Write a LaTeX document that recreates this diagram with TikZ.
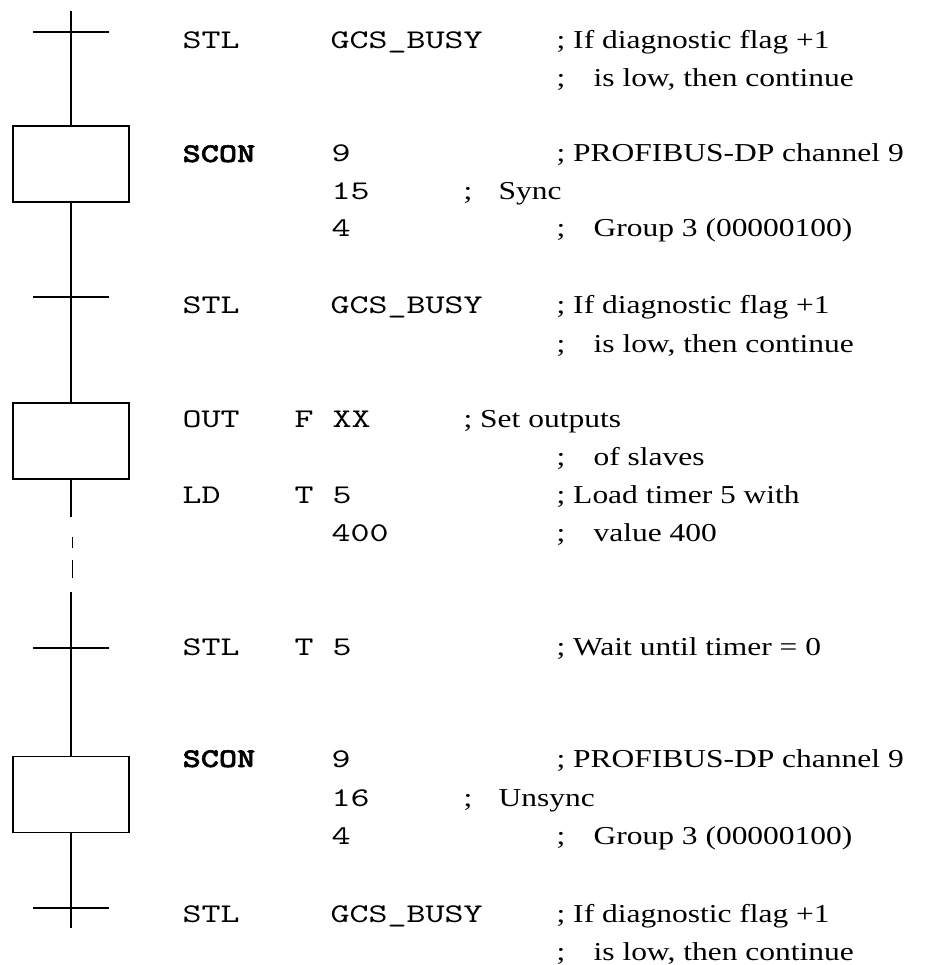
\documentclass[tikz,border=0pt]{standalone}
\usepackage{fontspec}
\newfontfamily\cmono{lmmono10-regular.otf}[FakeStretch=1.34,BoldFont=lmmonolt10-bold.otf,BoldFeatures={FakeStretch=1.28,FakeBold=2}]
\newfontfamily\cserif[FakeStretch=1.22]{Liberation Serif}
\begin{document}
\begin{tikzpicture}[x=1pt,y=-1pt,
  line width=1.3pt,
  stepbox/.style={draw,line width=1.3pt,minimum width=116pt,minimum height=76pt,inner sep=0pt},
  code/.style={anchor=base west,inner sep=0pt,font=\cmono\fontsize{27}{30}\selectfont},
  bcode/.style={code,font=\cmono\bfseries\fontsize{27}{30}\selectfont},
  cmt/.style={anchor=base west,inner sep=0pt,font=\cserif\fontsize{25.8}{30}\selectfont}]
\useasboundingbox (0,0) rectangle (924,965);
\newcommand{\ind}{\makebox[37pt][l]{;}}
\newcommand{\indm}{\makebox[35pt][l]{;}}
% chart
\coordinate (top) at (71,11);
\coordinate (t1) at (71,32);
\node[stepbox] (s1) at (71,164) {};
\coordinate (t2) at (71,297);
\node[stepbox] (s2) at (71,441) {};
\coordinate (d0) at (71,517);
\coordinate (d1a) at (72.5,537);
\coordinate (d1b) at (72.5,548);
\coordinate (d2a) at (72.5,560);
\coordinate (d2b) at (72.5,578);
\coordinate (d3) at (71,592);
\coordinate (t3) at (71,648);
\node[stepbox] (s3) at (71,794.5) {};
\coordinate (t4) at (71,908);
\coordinate (bot) at (71,928);
\draw (top) -- (s1.north);
\draw (s1.south) -- (s2.north);
\draw (s2.south) -- (d0);
\draw (d1a) -- (d1b);
\draw (d2a) -- (d2b);
\draw (d3) -- (s3.north);
\draw (s3.south) -- (bot);
\foreach \t in {t1,t2,t3,t4} \draw ([xshift=-38pt]\t) -- ([xshift=38pt]\t);
% text rows
\node[code] (r1a) at (182,49) {STL};
\node[code] (r1b) at (330,49) {GCS\_BUSY};
\node[cmt]  (r1c) at (556,49) {; If diagnostic flag +1};
\node[cmt]  (r2c) at (556,87) {\ind is low, then continue};
\node[bcode] (r3a) at (182,162) {SCON};
\node[code] (r3b) at (331,162) {9};
\node[cmt]  (r3c) at (556,162) {; PROFIBUS-DP channel 9};
\node[code] (r4b) at (331,200) {15};
\node[cmt]  (r4c) at (463,200) {\indm Sync};
\node[code] (r5b) at (331,237) {4};
\node[cmt]  (r5c) at (556,237) {\ind Group 3 (00000100)};
\node[code] (r6a) at (182,313) {STL};
\node[code] (r6b) at (330,313) {GCS\_BUSY};
\node[cmt]  (r6c) at (556,313) {; If diagnostic flag +1};
\node[cmt]  (r7c) at (556,352) {\ind is low, then continue};
\node[code] (r8a) at (182,427) {OUT};
\node[code] (r8b) at (294,427) {F XX};
\node[cmt]  (r8c) at (463,427) {; Set outputs};
\node[cmt]  (r9c) at (556,465) {\ind of slaves};
\node[code] (r10a) at (182,503) {LD};
\node[code] (r10b) at (294,503) {T 5};
\node[cmt]  (r10c) at (556,503) {; Load timer 5 with};
\node[code] (r11b) at (331,541) {400};
\node[cmt]  (r11c) at (556,541) {\ind value 400};
\node[code] (r12a) at (182,655) {STL};
\node[code] (r12b) at (294,655) {T 5};
\node[cmt]  (r12c) at (556,655) {; Wait until timer = 0};
\node[bcode] (r13a) at (182,767) {SCON};
\node[code] (r13b) at (331,767) {9};
\node[cmt]  (r13c) at (556,767) {; PROFIBUS-DP channel 9};
\node[code] (r14b) at (331,806) {16};
\node[cmt]  (r14c) at (463,806) {\indm Unsync};
\node[code] (r15b) at (331,844) {4};
\node[cmt]  (r15c) at (556,844) {\ind Group 3 (00000100)};
\node[code] (r16a) at (182,922) {STL};
\node[code] (r16b) at (330,922) {GCS\_BUSY};
\node[cmt]  (r16c) at (556,922) {; If diagnostic flag +1};
\node[cmt]  (r17c) at (556,960) {\ind is low, then continue};
\end{tikzpicture}
\end{document}
